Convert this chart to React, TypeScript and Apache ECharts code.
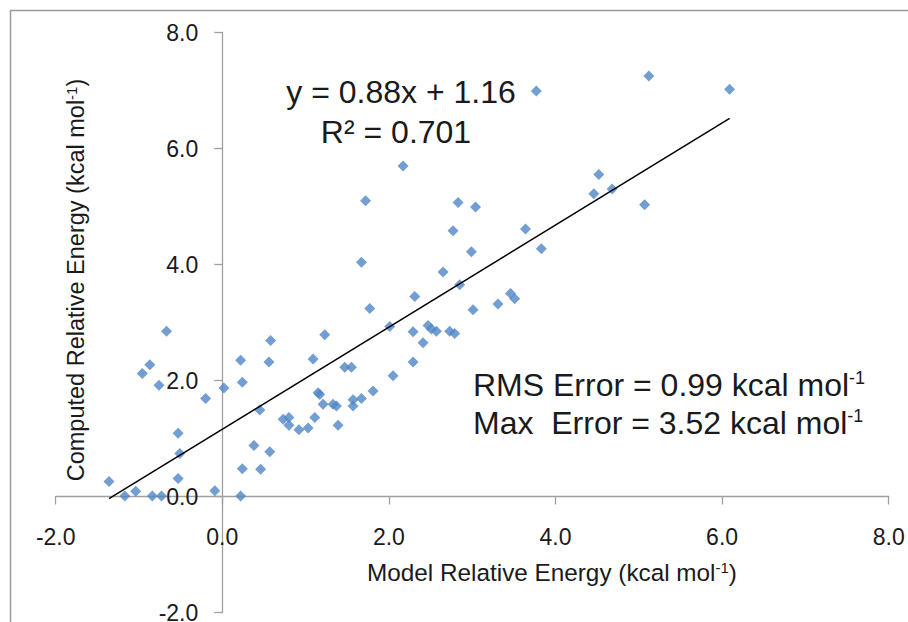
import React, { useEffect, useRef } from "react";
import * as echarts from "echarts";

// Model (x) vs computed (y) relative energies, kcal/mol
const modelEnergy = [
  -1.36, -1.17, -1.04, -0.84, -0.73, -0.67, -0.87, -0.96, -0.76, -0.2, 0.02, -0.53, -0.51, -0.53, -0.09,
  0.22, 0.22, 0.24, 0.58, 0.56, 0.45, 0.38, 0.57, 0.24, 0.46, 0.73, 0.8, 0.8, 0.92,
  1.03, 1.11, 1.39, 1.09, 1.23, 1.15, 1.17, 1.21, 1.33, 1.37, 1.47, 1.55, 1.57, 1.57, 1.67, 1.81,
  1.77, 2.01, 2.05, 2.29, 2.29, 2.31, 2.41, 2.47, 2.51, 2.57, 2.73, 2.79, 1.67, 1.72, 2.17,
  2.65, 2.85, 2.99, 3.01, 2.77, 2.83, 3.04, 3.31, 3.46, 3.51, 3.64, 3.83, 3.77,
  4.46, 4.52, 4.68, 5.07, 5.12, 6.09,
];
const computedEnergy = [
  0.26, 0.01, 0.09, 0.01, 0.01, 2.85, 2.27, 2.12, 1.92, 1.69, 1.87, 1.09, 0.74, 0.31, 0.1,
  0.01, 2.35, 1.97, 2.69, 2.32, 1.49, 0.88, 0.77, 0.48, 0.47, 1.33, 1.36, 1.23, 1.15,
  1.18, 1.36, 1.23, 2.37, 2.79, 1.79, 1.76, 1.59, 1.59, 1.56, 2.23, 2.23, 1.67, 1.56, 1.69, 1.82,
  3.24, 2.93, 2.08, 2.84, 2.32, 3.45, 2.65, 2.95, 2.89, 2.85, 2.85, 2.81, 4.04, 5.1, 5.7,
  3.87, 3.65, 4.22, 3.22, 4.58, 5.07, 4.99, 3.32, 3.5, 3.41, 4.61, 4.27, 6.99,
  5.22, 5.55, 5.3, 5.03, 7.25, 7.02,
];

const trendSlope = 0.88;
const trendIntercept = 1.16;
const rSquared = "0.701";
const rmsError = "0.99";
const maxError = "3.52";

const axisTicks = [-2, 0, 2, 4, 6, 8];
const tickLabels = ["-2.0", "0.0", "2.0", "4.0", "6.0", "8.0"];

const FAMILY = '"Liberation Sans", Arial, Helvetica, sans-serif';
const TEXT = "#1a1a1a";
const AXIS = "#a0a0a0";

const W = 908;
const H = 622;
const GRID = { left: 55.7, right: 19.3, top: 32.5, bottom: 9.5 };

function f(size: number) {
  return `${size}px ${FAMILY}`;
}

function richText(size: number, supSize: number) {
  return {
    n: { font: f(size), fontSize: size, fontFamily: FAMILY, fill: TEXT, color: TEXT },
    s: { font: f(supSize), fontSize: supSize, fontFamily: FAMILY, fill: TEXT, color: TEXT, verticalAlign: "top" },
  };
}

export default function App() {
  const ref = useRef<HTMLDivElement>(null);

  useEffect(() => {
    if (!ref.current) return;
    const chart = echarts.init(ref.current, undefined, { renderer: "svg" });

    const points = modelEnergy.map((x, i) => [x, computedEnergy[i]]);
    const xMin = Math.min(...modelEnergy);
    const xMax = Math.max(...modelEnergy);
    const trend = [
      [xMin, trendSlope * xMin + trendIntercept],
      [xMax, trendSlope * xMax + trendIntercept],
    ];
    const lo = axisTicks[0];
    const hi = axisTicks[axisTicks.length - 1];
    const step = axisTicks[1] - axisTicks[0];
    const labelFor = (v: number) => {
      const idx = axisTicks.findIndex((t) => Math.abs(t - v) < 1e-9);
      return idx >= 0 ? tickLabels[idx] : "";
    };

    // place each axis line where the other axis is zero
    const plotW = W - GRID.left - GRID.right;
    const plotH = H - GRID.top - GRID.bottom;
    const zeroFrac = (0 - lo) / (hi - lo);
    const xAxisOffset = -zeroFrac * plotH;
    const yAxisOffset = -zeroFrac * plotW;

    const axisCommon = {
      type: "value" as const,
      min: lo,
      max: hi,
      interval: step,
      splitLine: { show: false },
      axisLine: { show: true, onZero: false, lineStyle: { color: AXIS, width: 1.3 } },
      axisTick: { show: true, length: 8, lineStyle: { color: AXIS, width: 1.3 } },
    };

    chart.setOption({
      animation: false,
      backgroundColor: "#ffffff",
      grid: { ...GRID, containLabel: false, outerBoundsMode: "none" },
      xAxis: {
        ...axisCommon,
        position: "bottom",
        offset: xAxisOffset,
        axisLabel: {
          margin: 29,
          formatter: labelFor,
          color: TEXT,
          fontSize: 23,
          fontFamily: FAMILY,
        },
      },
      yAxis: {
        ...axisCommon,
        position: "left",
        offset: yAxisOffset,
        axisLabel: {
          margin: 24,
          formatter: labelFor,
          color: TEXT,
          fontSize: 23,
          fontFamily: FAMILY,
        },
      },
      series: [
        {
          type: "scatter",
          data: points,
          symbol: "diamond",
          symbolSize: 11,
          itemStyle: { color: "#4f86c6" },
          z: 2,
        },
        {
          type: "line",
          data: trend,
          symbol: "none",
          lineStyle: { color: "#000000", width: 1.5 },
          z: 3,
        },
      ],
      graphic: [
        {
          type: "polyline",
          shape: { points: [[10.5, 640], [10.5, 10.5], [920, 10.5]] },
          style: { stroke: "#9a9a9a", lineWidth: 1.5, fill: "none" },
          silent: true,
        },
        {
          type: "text",
          x: 552,
          y: 572,
          style: {
            text: "{n|Model Relative Energy (kcal mol}{s|-1}{n|)}",
            rich: richText(24.3, 15),
            font: f(24.3),
            fill: TEXT,
            align: "center",
            verticalAlign: "middle",
            textAlign: "center",
            textVerticalAlign: "middle",
          },
        },
        {
          type: "text",
          x: 76,
          y: 280,
          rotation: Math.PI / 2,
          style: {
            text: "{n|Computed Relative Energy (kcal mol}{s|-1}{n|)}",
            rich: richText(23.5, 15),
            font: f(23.5),
            fill: TEXT,
            align: "center",
            verticalAlign: "middle",
            textAlign: "center",
            textVerticalAlign: "middle",
          },
        },
        {
          type: "text",
          x: 401,
          y: 92,
          style: {
            text: `y = ${trendSlope.toFixed(2)}x + ${trendIntercept.toFixed(2)}`,
            font: f(32),
            fill: TEXT,
            align: "center",
            verticalAlign: "middle",
            textAlign: "center",
            textVerticalAlign: "middle",
          },
        },
        {
          type: "text",
          x: 396,
          y: 132,
          style: {
            text: `R² = ${rSquared}`,
            font: f(32),
            fill: TEXT,
            align: "center",
            verticalAlign: "middle",
            textAlign: "center",
            textVerticalAlign: "middle",
          },
        },
        {
          type: "text",
          x: 473,
          y: 385,
          style: {
            text: `{n|RMS Error = ${rmsError} kcal mol}{s|-1}`,
            rich: richText(32, 18),
            font: f(32),
            fill: TEXT,
            align: "left",
            verticalAlign: "middle",
            textAlign: "left",
            textVerticalAlign: "middle",
          },
        },
        {
          type: "text",
          x: 473,
          y: 423,
          style: {
            text: `{n|Max  Error = ${maxError} kcal mol}{s|-1}`,
            rich: richText(32, 18),
            font: f(32),
            fill: TEXT,
            align: "left",
            verticalAlign: "middle",
            textAlign: "left",
            textVerticalAlign: "middle",
          },
        },
      ],
    });

    return () => chart.dispose();
  }, []);

  return (
    <div
      ref={ref}
      style={{ position: "fixed", left: 0, top: 0, width: W, height: H, background: "#fff" }}
    />
  );
}
